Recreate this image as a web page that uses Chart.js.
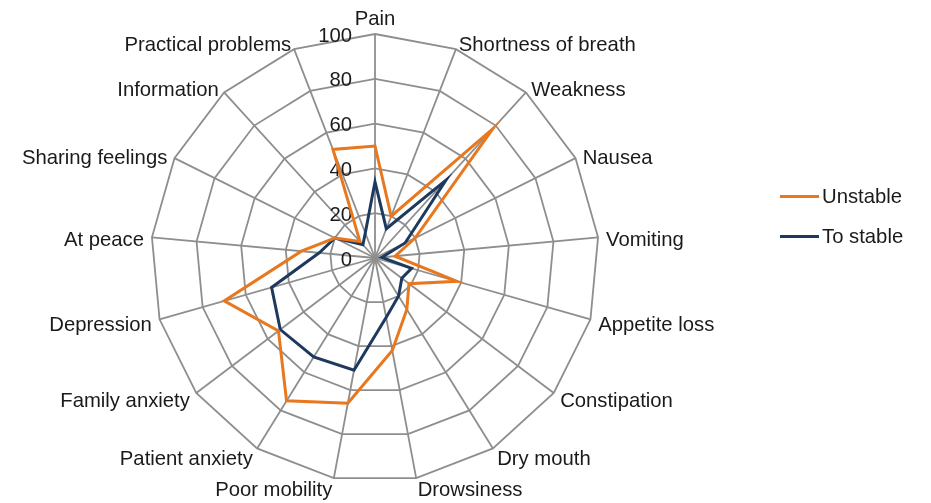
<!DOCTYPE html>
<html>
<head>
<meta charset="utf-8">
<script src="https://cdn.jsdelivr.net/npm/chart.js@4.4.0/dist/chart.umd.min.js"></script>
<style>
  body { margin: 0; background: #fff; font-family: "Liberation Sans", Arial, sans-serif; }
  #wrap { position: relative; width: 931px; height: 503px; overflow: hidden; }
  #chart { position: absolute; left: 0; top: 0; }
  .leg { position: absolute; left: 780px; font-size: 20.3px; color: #1a1a1a; display: flex; align-items: center; height: 24px; }
  .leg span { display: inline-block; width: 39px; height: 3px; margin-right: 3px; }
</style>
</head>
<body>
<div id="wrap">
  <canvas id="chart" width="931" height="503"></canvas>
  <div class="leg" style="top:184px"><span style="background:#e8771e"></span>Unstable</div>
  <div class="leg" style="top:224px"><span style="background:#1d3a5e"></span>To stable</div>
</div>
<script>
const categories = ['Pain', 'Shortness of breath', 'Weakness', 'Nausea', 'Vomiting', 'Appetite loss',
  'Constipation', 'Dry mouth', 'Drowsiness', 'Poor mobility', 'Patient anxiety', 'Family anxiety',
  'Depression', 'At peace', 'Sharing feelings', 'Information', 'Practical problems'];
const unstable = [50, 20, 78, 20, 9, 38, 19, 27, 42, 66, 75, 54, 70, 33, 20, 10, 52];
const toStable = [34, 14, 47, 15, 3, 17, 15, 20, 27, 51, 52, 53, 48, 25, 20, 8, 12];
const tickValues = [0, 20, 40, 60, 80, 100];

const FONT = '"Liberation Sans", Arial, sans-serif';
const TEXT = '#1a1a1a';
const SIZE = 20.3;

// tick numbers sit left of the vertical axis, not centred on it
const tickText = {
  id: 'tickText',
  beforeDatasetsDraw(chart) {
    const s = chart.scales.r;
    const ctx = chart.ctx;
    ctx.save();
    ctx.font = SIZE + 'px ' + FONT;
    ctx.fillStyle = TEXT;
    ctx.textAlign = 'right';
    ctx.textBaseline = 'middle';
    tickValues.forEach(v => {
      const y = s.yCenter - s.getDistanceFromCenterForValue(v);
      ctx.fillText(String(v), s.xCenter - 23, y + 2);
    });
    ctx.restore();
  }
};

// category names centred on the spoke ends (Excel style) instead of pushed above/below
const pointText = {
  id: 'pointText',
  afterDraw(chart) {
    const s = chart.scales.r;
    const ctx = chart.ctx;
    ctx.save();
    ctx.font = SIZE + 'px ' + FONT;
    ctx.fillStyle = TEXT;
    ctx.textBaseline = 'middle';
    categories.forEach((name, i) => {
      const p = s.getPointPosition(i, s.drawingArea + 8);
      let align = 'center';
      if (p.x > s.xCenter + 1) align = 'left';
      else if (p.x < s.xCenter - 1) align = 'right';
      ctx.textAlign = align;
      ctx.fillText(name, p.x, p.y + (i === 0 ? -7 : 4));
    });
    ctx.restore();
  }
};

new Chart(document.getElementById('chart').getContext('2d'), {
  type: 'radar',
  data: {
    labels: categories,
    datasets: [
      { label: 'Unstable', data: unstable, borderColor: '#e8771e', fill: false },
      { label: 'To stable', data: toStable, borderColor: '#1d3a5e', fill: false }
    ]
  },
  options: {
    responsive: false,
    animation: false,
    layout: { padding: { left: 151, right: 332, top: 34, bottom: 21 } },
    elements: { line: { tension: 0, borderWidth: 3 }, point: { radius: 0 } },
    plugins: { legend: { display: false }, tooltip: { enabled: false } },
    scales: {
      r: {
        min: 0, max: 100,
        ticks: { stepSize: 20, display: false },
        grid: { color: '#8e8e8e', lineWidth: 1.8 },
        angleLines: { color: '#8e8e8e', lineWidth: 1.8 },
        pointLabels: { display: false }
      }
    }
  },
  plugins: [tickText, pointText]
});
</script>
</body>
</html>
